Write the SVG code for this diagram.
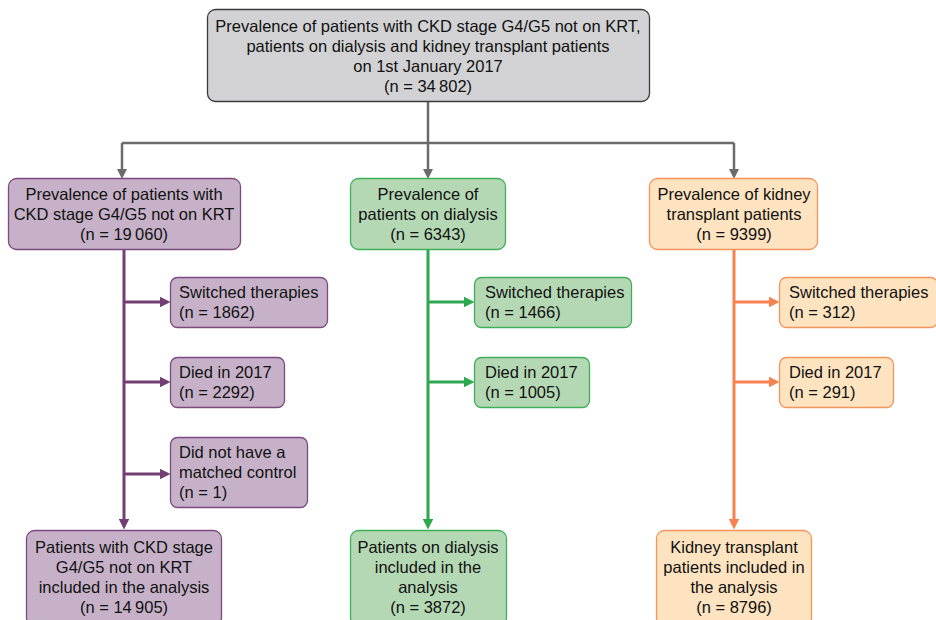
<svg xmlns="http://www.w3.org/2000/svg" width="936" height="620" viewBox="0 0 936 620">
<defs>
<style>
text{font-family:"Liberation Sans",Arial,sans-serif;font-size:16.5px;fill:#111}
.c{text-anchor:middle}
.gray{fill:#d2d2d4;stroke:#3a3a3a;stroke-width:1.3}
.pur{fill:#c6b1c8;stroke:#7b4a7e;stroke-width:1.3}
.grn{fill:#b5d8b4;stroke:#3fae58;stroke-width:1.3}
.org{fill:#fde3c0;stroke:#f4955d;stroke-width:1.3}
.lg{stroke:#6b6b6b;stroke-width:2.5;fill:none}
.lp{stroke:#733f73;stroke-width:3;fill:none}
.lgr{stroke:#2ea84f;stroke-width:3;fill:none}
.lo{stroke:#f5824f;stroke-width:3;fill:none}
</style>
<marker id="ag" markerWidth="4" markerHeight="4" refX="2" refY="2" orient="auto" markerUnits="strokeWidth"><path d="M0,0L4,2L0,4Z" fill="#6b6b6b"/></marker>
<marker id="ap" markerWidth="3.5" markerHeight="3.5" refX="2" refY="1.75" orient="auto" markerUnits="strokeWidth"><path d="M0,0L3.5,1.75L0,3.5Z" fill="#733f73"/></marker>
<marker id="agr" markerWidth="3.5" markerHeight="3.5" refX="2" refY="1.75" orient="auto" markerUnits="strokeWidth"><path d="M0,0L3.5,1.75L0,3.5Z" fill="#2ea84f"/></marker>
<marker id="ao" markerWidth="3.5" markerHeight="3.5" refX="2" refY="1.75" orient="auto" markerUnits="strokeWidth"><path d="M0,0L3.5,1.75L0,3.5Z" fill="#f5824f"/></marker>
</defs>

<g id="connectors">
<path class="lg" d="M428,101V143" />
<path class="lg" d="M122,143H734" />
<path class="lg" d="M122,143V174" marker-end="url(#ag)"/>
<path class="lg" d="M428,143V174" marker-end="url(#ag)"/>
<path class="lg" d="M734,143V174" marker-end="url(#ag)"/>

<path class="lp" d="M124,249V525" marker-end="url(#ap)"/>
<path class="lp" d="M124,302H166" marker-end="url(#ap)"/>
<path class="lp" d="M124,382H166" marker-end="url(#ap)"/>
<path class="lp" d="M124,474H166" marker-end="url(#ap)"/>

<path class="lgr" d="M428,249V525" marker-end="url(#agr)"/>
<path class="lgr" d="M428,302H470" marker-end="url(#agr)"/>
<path class="lgr" d="M428,382H470" marker-end="url(#agr)"/>

<path class="lo" d="M734,249V525" marker-end="url(#ao)"/>
<path class="lo" d="M734,302H775" marker-end="url(#ao)"/>
<path class="lo" d="M734,382H775" marker-end="url(#ao)"/>
</g>

<g id="top">
<rect class="gray" x="207.5" y="9.5" width="442" height="92" rx="8"/>
<text class="c" x="428" y="32">Prevalence of patients with CKD stage G4/G5 not on KRT,</text>
<text class="c" x="428" y="52">patients on dialysis and kidney transplant patients</text>
<text class="c" x="428" y="72">on 1st January 2017</text>
<text class="c" x="428" y="92">(n = 34&#8201;802)</text>
</g>

<g id="ckd">
<rect class="pur" x="8.5" y="178.5" width="232" height="71" rx="8"/>
<text class="c" x="124" y="200">Prevalence of patients with</text>
<text class="c" x="124" y="220">CKD stage G4/G5 not on KRT</text>
<text class="c" x="124" y="240">(n = 19&#8201;060)</text>
</g>
<g id="ckd-switch">
<rect class="pur" x="170.5" y="277.5" width="157" height="50" rx="7"/>
<text x="179" y="298">Switched therapies</text>
<text x="179" y="318">(n = 1862)</text>
</g>
<g id="ckd-died">
<rect class="pur" x="170.5" y="357.5" width="114" height="50" rx="7"/>
<text x="179" y="378">Died in 2017</text>
<text x="179" y="398">(n = 2292)</text>
</g>
<g id="ckd-nomatch">
<rect class="pur" x="170.5" y="437.5" width="137" height="70" rx="7"/>
<text x="179" y="458">Did not have a</text>
<text x="179" y="478">matched control</text>
<text x="179" y="498">(n = 1)</text>
</g>
<g id="ckd-final">
<rect class="pur" x="26.5" y="530.5" width="195" height="95" rx="8"/>
<text class="c" x="124" y="553">Patients with CKD stage</text>
<text class="c" x="124" y="573">G4/G5 not on KRT</text>
<text class="c" x="124" y="593">included in the analysis</text>
<text class="c" x="124" y="613">(n = 14&#8201;905)</text>
</g>

<g id="dial">
<rect class="grn" x="350.5" y="178.5" width="155" height="71" rx="8"/>
<text class="c" x="428" y="200">Prevalence of</text>
<text class="c" x="428" y="220">patients on dialysis</text>
<text class="c" x="428" y="240">(n = 6343)</text>
</g>
<g id="dial-switch">
<rect class="grn" x="474.5" y="277.5" width="157" height="50" rx="7"/>
<text x="485" y="298">Switched therapies</text>
<text x="485" y="318">(n = 1466)</text>
</g>
<g id="dial-died">
<rect class="grn" x="474.5" y="357.5" width="115" height="50" rx="7"/>
<text x="485" y="378">Died in 2017</text>
<text x="485" y="398">(n = 1005)</text>
</g>
<g id="dial-final">
<rect class="grn" x="350.5" y="530.5" width="156" height="95" rx="8"/>
<text class="c" x="428" y="553">Patients on dialysis</text>
<text class="c" x="428" y="573">included in the</text>
<text class="c" x="428" y="593">analysis</text>
<text class="c" x="428" y="613">(n = 3872)</text>
</g>

<g id="tx">
<rect class="org" x="649.5" y="178.5" width="168" height="71" rx="8"/>
<text class="c" x="734" y="200">Prevalence of kidney</text>
<text class="c" x="734" y="220">transplant patients</text>
<text class="c" x="734" y="240">(n = 9399)</text>
</g>
<g id="tx-switch">
<rect class="org" x="779.5" y="277.5" width="158" height="50" rx="7"/>
<text x="789" y="298">Switched therapies</text>
<text x="789" y="318">(n = 312)</text>
</g>
<g id="tx-died">
<rect class="org" x="779.5" y="357.5" width="114" height="50" rx="7"/>
<text x="789" y="378">Died in 2017</text>
<text x="789" y="398">(n = 291)</text>
</g>
<g id="tx-final">
<rect class="org" x="656.5" y="530.5" width="155" height="95" rx="8"/>
<text class="c" x="734" y="553">Kidney transplant</text>
<text class="c" x="734" y="573">patients included in</text>
<text class="c" x="734" y="593">the analysis</text>
<text class="c" x="734" y="613">(n = 8796)</text>
</g>
</svg>
